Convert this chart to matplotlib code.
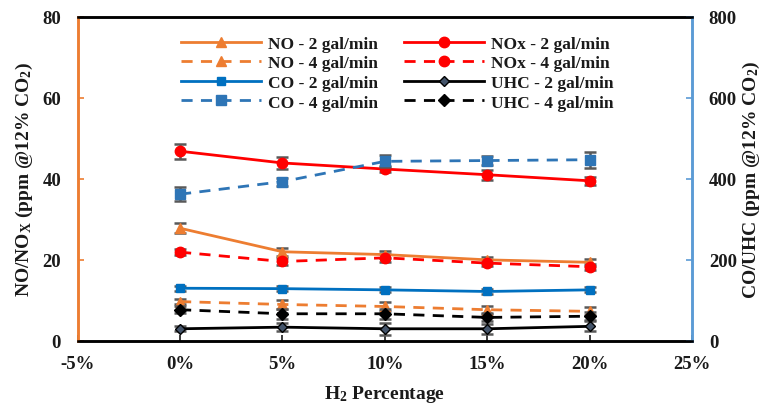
import matplotlib
matplotlib.use("Agg")
import matplotlib.pyplot as plt
from matplotlib.ticker import FuncFormatter

plt.rcParams['font.family'] = ['Liberation Serif', 'DejaVu Serif']
plt.rcParams['font.weight'] = 'bold'
plt.rcParams['mathtext.fontset'] = 'custom'
plt.rcParams['mathtext.rm'] = 'Liberation Serif:bold'
plt.rcParams['mathtext.it'] = 'Liberation Serif:bold'
plt.rcParams['mathtext.bf'] = 'Liberation Serif:bold'

# H2 fraction in the fuel
h2 = [0.00, 0.05, 0.10, 0.15, 0.20]

# Left axis: NO / NOx (ppm @12% CO2)
no_2 = [27.8, 22.0, 21.3, 20.0, 19.4]
no_4 = [9.7, 9.0, 8.5, 7.7, 7.3]
nox_2 = [46.8, 43.9, 42.4, 41.0, 39.5]
nox_4 = [21.9, 19.6, 20.5, 19.2, 18.3]
no_2_err = [1.2, 1.0, 0.8, 0.8, 0.8]
no_4_err = [0.6, 1.0, 1.0, 1.0, 1.0]
nox_2_err = [1.8, 1.5, 0.8, 1.2, 1.0]
nox_4_err = [0.8, 0.8, 1.0, 0.8, 0.8]

# Right axis: CO / UHC (ppm @12% CO2)
co_2 = [130, 129, 126, 122, 126]
co_4 = [362, 393, 443, 445, 447]
uhc_2 = [30, 34, 30, 30, 36]
uhc_4 = [77, 67, 67, 58, 61]
co_2_err = [6, 6, 6, 6, 6]
co_4_err = [18, 10, 15, 12, 20]
uhc_2_err = [6, 10, 15, 12, 12]
uhc_4_err = [8, 12, 12, 10, 10]

orange = '#ED7D31'
red = '#FF0000'
blue = '#0070C0'
blue2 = '#2E75B6'
errc = '#595959'
txt = '#1a1a1a'

fig, ax = plt.subplots(figsize=(7.69, 4.10), dpi=100)
fig.subplots_adjust(left=0.101, right=0.9, top=0.957, bottom=0.166)
ax2 = ax.twinx()

ekw = dict(ecolor=errc, elinewidth=1.8, capsize=4, capthick=1.8)
dash = (0, (4, 3))

h = {}
h['no2'] = ax.errorbar(h2, no_2, yerr=no_2_err, color=orange, lw=2, ls='-', marker='^', ms=7, **ekw)
h['no4'] = ax.errorbar(h2, no_4, yerr=no_4_err, color=orange, lw=2, ls=dash, marker='^', ms=7, **ekw)
h['nox2'] = ax.errorbar(h2, nox_2, yerr=nox_2_err, color=red, lw=2, ls='-', marker='o', ms=7.5, **ekw)
h['nox4'] = ax.errorbar(h2, nox_4, yerr=nox_4_err, color=red, lw=2, ls=dash, marker='o', ms=7.5, **ekw)
h['co2'] = ax2.errorbar(h2, co_2, yerr=co_2_err, color=blue, lw=2, ls='-', marker='s', ms=6, **ekw)
h['co4'] = ax2.errorbar(h2, co_4, yerr=co_4_err, color=blue2, lw=2, ls=dash, marker='s', ms=7, **ekw)
h['uhc2'] = ax2.errorbar(h2, uhc_2, yerr=uhc_2_err, color='black', lw=2, ls='-', marker='D', ms=5,
                         mfc='#44546A', mec='black', **ekw)
h['uhc4'] = ax2.errorbar(h2, uhc_4, yerr=uhc_4_err, color='black', lw=2, ls=dash, marker='D', ms=6, **ekw)

ax.set_xlim(-0.05, 0.25)
ax.set_xticks([-0.05, 0, 0.05, 0.10, 0.15, 0.20, 0.25])
ax.xaxis.set_major_formatter(FuncFormatter(lambda v, p: f"{round(v * 100):d}%"))
ax.set_ylim(0, 80)
ax.set_yticks([0, 20, 40, 60, 80])
ax2.set_ylim(0, 800)
ax2.set_yticks([0, 200, 400, 600, 800])

for a in (ax, ax2):
    a.tick_params(axis='both', direction='in', length=4, labelsize=13.5, width=1.2)
    for s in a.spines.values():
        s.set_linewidth(1.8)
ax.tick_params(axis='y', colors=orange, labelcolor=txt, pad=12)
ax2.tick_params(axis='y', colors='#5B9BD5', labelcolor=txt, pad=12)
ax.tick_params(axis='x', colors=txt, pad=10)
for a in (ax, ax2):
    a.spines['left'].set_color(orange)
    a.spines['right'].set_color('#5B9BD5')

ax.set_xlabel(r"H$_2$ Percentage", fontsize=14, fontweight='bold', color=txt, labelpad=8)
ax.set_ylabel(r"NO/NO$_X$ (ppm @12% CO$_2$)", fontsize=14, fontweight='bold', color=txt, labelpad=5)
ax2.set_ylabel(r"CO/UHC (ppm @12% CO$_2$)", fontsize=14, fontweight='bold', color=txt, labelpad=3)

handles = [h['no2'], h['no4'], h['co2'], h['co4'], h['nox2'], h['nox4'], h['uhc2'], h['uhc4']]
labels = ['NO - 2 gal/min', 'NO - 4 gal/min', 'CO - 2 gal/min', 'CO - 4 gal/min',
          'NOx - 2 gal/min', 'NOx - 4 gal/min', 'UHC - 2 gal/min', 'UHC - 4 gal/min']
leg = ax2.legend([hh.lines[0] for hh in handles], labels, ncol=2, frameon=False,
                 loc='upper center', bbox_to_anchor=(0.52, 0.99), fontsize=12.5,
                 handlelength=4.6, columnspacing=1.5, labelspacing=0.2, handletextpad=0.4)
for t in leg.get_texts():
    t.set_color(txt)

fig.savefig('out.png', dpi=100)
